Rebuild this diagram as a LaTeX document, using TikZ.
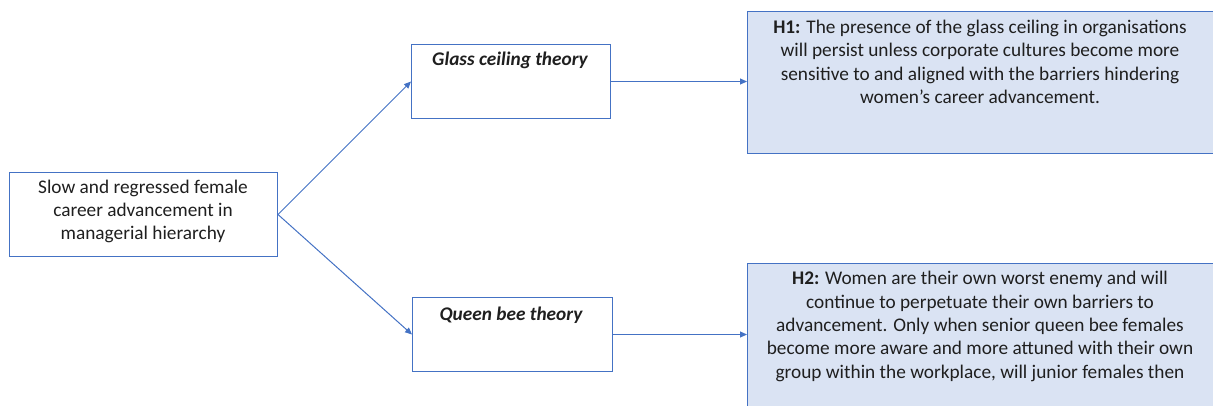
\documentclass[tikz,border=0pt]{standalone}
\usepackage{fontspec}
\setmainfont{Carlito}
\usetikzlibrary{arrows.meta}
\definecolor{bord}{HTML}{4472C4}
\definecolor{hfill}{HTML}{DAE3F3}
\begin{document}
\begin{tikzpicture}[x=1pt,y=-1pt,
  box/.style={draw=bord, line width=1pt, inner sep=0pt, anchor=north west},
  hbox/.style={box, fill=hfill},
  txt/.style={font=\fontsize{19.3}{23.3}\selectfont, align=center, inner sep=0pt, text=black!88},
  theory/.style={txt, font=\fontsize{19.3}{23.3}\selectfont\bfseries\itshape},
  conn/.style={draw=bord, line width=1pt, -{Triangle[length=7pt,width=6pt]}}]
\useasboundingbox (0,0) rectangle (1213,405);
\clip (0,0) rectangle (1213,405);
\node[box, minimum width=268pt, minimum height=84pt] (src) at (9,172) {};
\node[box, minimum width=199pt, minimum height=74pt] (glass) at (411,44) {};
\node[box, minimum width=200pt, minimum height=74pt] (queen) at (412,297) {};
\node[hbox, minimum width=472pt, minimum height=142pt] (h1) at (747,11) {};
\node[hbox, minimum width=472pt, minimum height=160pt] (h2) at (747,263) {};

\node[txt] (srct) at (143,211.5) {Slow and regressed female\\career advancement in\\managerial hierarchy};
\node[theory] (glasst) at (510,60) {Glass ceiling theory};
\node[theory] (queent) at (511,315) {Queen bee theory};
\node[txt] (h1t) at (980,62) {\textbf{H1:} The presence of the glass ceiling in organisations\\will persist unless corporate cultures become more\\sensitive to and aligned with the barriers hindering\\women’s career advancement.};
\node[txt] (h2t) at (980,326.5) {\textbf{H2:} Women are their own worst enemy and will\\continue to perpetuate their own barriers to\\advancement. Only when senior queen bee females\\become more aware and more attuned with their own\\group within the workplace, will junior females then};

\draw[conn] (src.east) -- (glass.west);
\draw[conn] (src.east) -- (queen.west);
\draw[conn] (glass.east) -- (glass.east -| h1.west);
\draw[conn] (queen.east) -- (queen.east -| h2.west);
\end{tikzpicture}
\end{document}
